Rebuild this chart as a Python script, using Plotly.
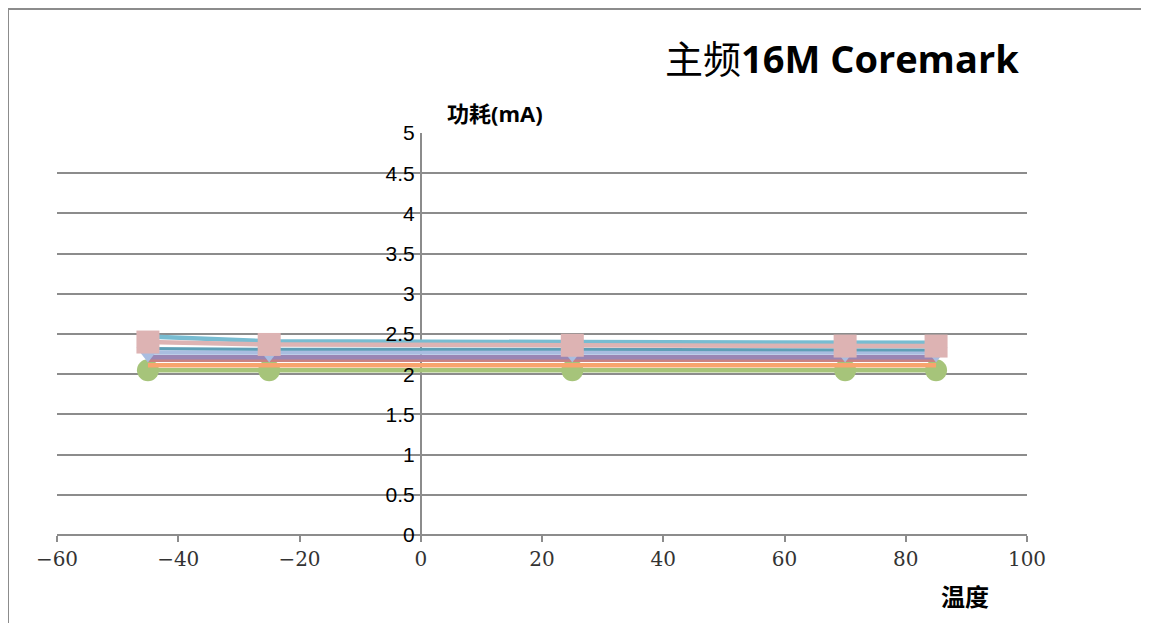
import plotly.graph_objects as go

temps = [-45, -25, 25, 70, 85]

s_lightblue = [2.47, 2.41, 2.40, 2.39, 2.39]
s_pink = [2.40, 2.37, 2.36, 2.35, 2.35]
s_teal = [2.32, 2.31, 2.31, 2.30, 2.30]
s_periwinkle = [2.27, 2.27, 2.27, 2.27, 2.27]
s_purple = [2.21, 2.21, 2.21, 2.21, 2.21]
s_red = [2.18, 2.18, 2.18, 2.18, 2.18]
s_orange = [2.11, 2.11, 2.11, 2.11, 2.11]
s_green = [2.05, 2.05, 2.05, 2.05, 2.05]

x_ticks = [-60, -40, -20, 0, 20, 40, 60, 80, 100]
x_tick_text = ["−60", "−40", "−20", "0", "20", "40", "60", "80", "100"]
y_ticks = [0, 0.5, 1, 1.5, 2, 2.5, 3, 3.5, 4, 4.5, 5]
y_tick_text = ["0", "0.5", "1", "1.5", "2", "2.5", "3", "3.5", "4", "4.5", "5"]

fig = go.Figure()

series = [
    ("green", s_green, "#A6C47A", "circle", 22),
    ("orange", s_orange, "#F8A46E", None, 0),
    ("red", s_red, "#C98282", None, 0),
    ("purple", s_purple, "#9A86B4", None, 0),
    ("periwinkle", s_periwinkle, "#A9BDE0", "triangle-down", 20),
    ("teal", s_teal, "#5E9FB6", None, 0),
    ("lightblue", s_lightblue, "#78BCD1", None, 0),
    ("pink", s_pink, "#DDB3B3", "square", 23),
]

for name, vals, color, sym, size in series:
    fig.add_trace(go.Scatter(
        x=temps, y=vals, name=name,
        mode="lines+markers" if sym else "lines",
        line=dict(color=color, width=3 if name == "teal" else 4.5),
        marker=dict(symbol=sym or "circle", size=size, color=color,
                    line=dict(width=0)),
        showlegend=False,
    ))

axis_gray = "#8C8C8C"

fig.update_layout(
    width=1141, height=615,
    margin=dict(l=49, r=122, t=125, b=88),
    plot_bgcolor="white", paper_bgcolor="white",
    showlegend=False,
    xaxis=dict(
        range=[-60, 100], domain=[0, 1],
        tickvals=x_ticks, ticktext=x_tick_text,
        showgrid=False, zeroline=True, zerolinecolor=axis_gray, zerolinewidth=1.5,
        showline=False,
        ticks="outside", ticklen=6, tickcolor=axis_gray, tickwidth=1.5,
        tickfont=dict(family="DejaVu Serif, Liberation Serif, serif", size=20, color="#333333"),
        anchor="y",
    ),
    yaxis=dict(
        range=[0, 5], tickvals=y_ticks, ticktext=y_tick_text,
        showgrid=True, gridcolor=axis_gray, gridwidth=1.5,
        zeroline=True, zerolinecolor=axis_gray, zerolinewidth=1.5,
        showline=False, ticks="",
        anchor="free", position=0.375,
        ticklabelstandoff=6,
        tickfont=dict(family="Liberation Sans, Arial, sans-serif", size=21, color="#000000"),
    ),
    shapes=[
        dict(type="rect", xref="paper", yref="paper",
             x0=(8 - 57) / 970, x1=(1146 - 57) / 970,
             y0=-(640 - 535) / 402, y1=1 + (133 - 9) / 402,
             line=dict(color="#8C8C8C", width=2), layer="below"),
    ],
    annotations=[
        dict(xref="paper", yref="paper", x=(842 - 57) / 970, y=1 + (133 - 58) / 402,
             text="主频<b>16M Coremark</b>", showarrow=False,
             font=dict(family="Open Sans, Noto Sans CJK SC, sans-serif", size=38, color="black"),
             xanchor="center", yanchor="middle"),
        dict(xref="paper", yref="paper", x=(495 - 57) / 970, y=1 + (133 - 113) / 402,
             text="<b>功耗(mA)</b>", showarrow=False,
             font=dict(family="Open Sans, Noto Sans CJK SC, sans-serif", size=22, color="black"),
             xanchor="center", yanchor="middle"),
        dict(xref="paper", yref="paper", x=(965 - 57) / 970, y=-(595 - 535) / 402,
             text="<b>温度</b>", showarrow=False,
             font=dict(family="Noto Sans CJK SC, sans-serif", size=24, color="black"),
             xanchor="center", yanchor="middle"),
    ],
)

fig.write_html("out.html")
